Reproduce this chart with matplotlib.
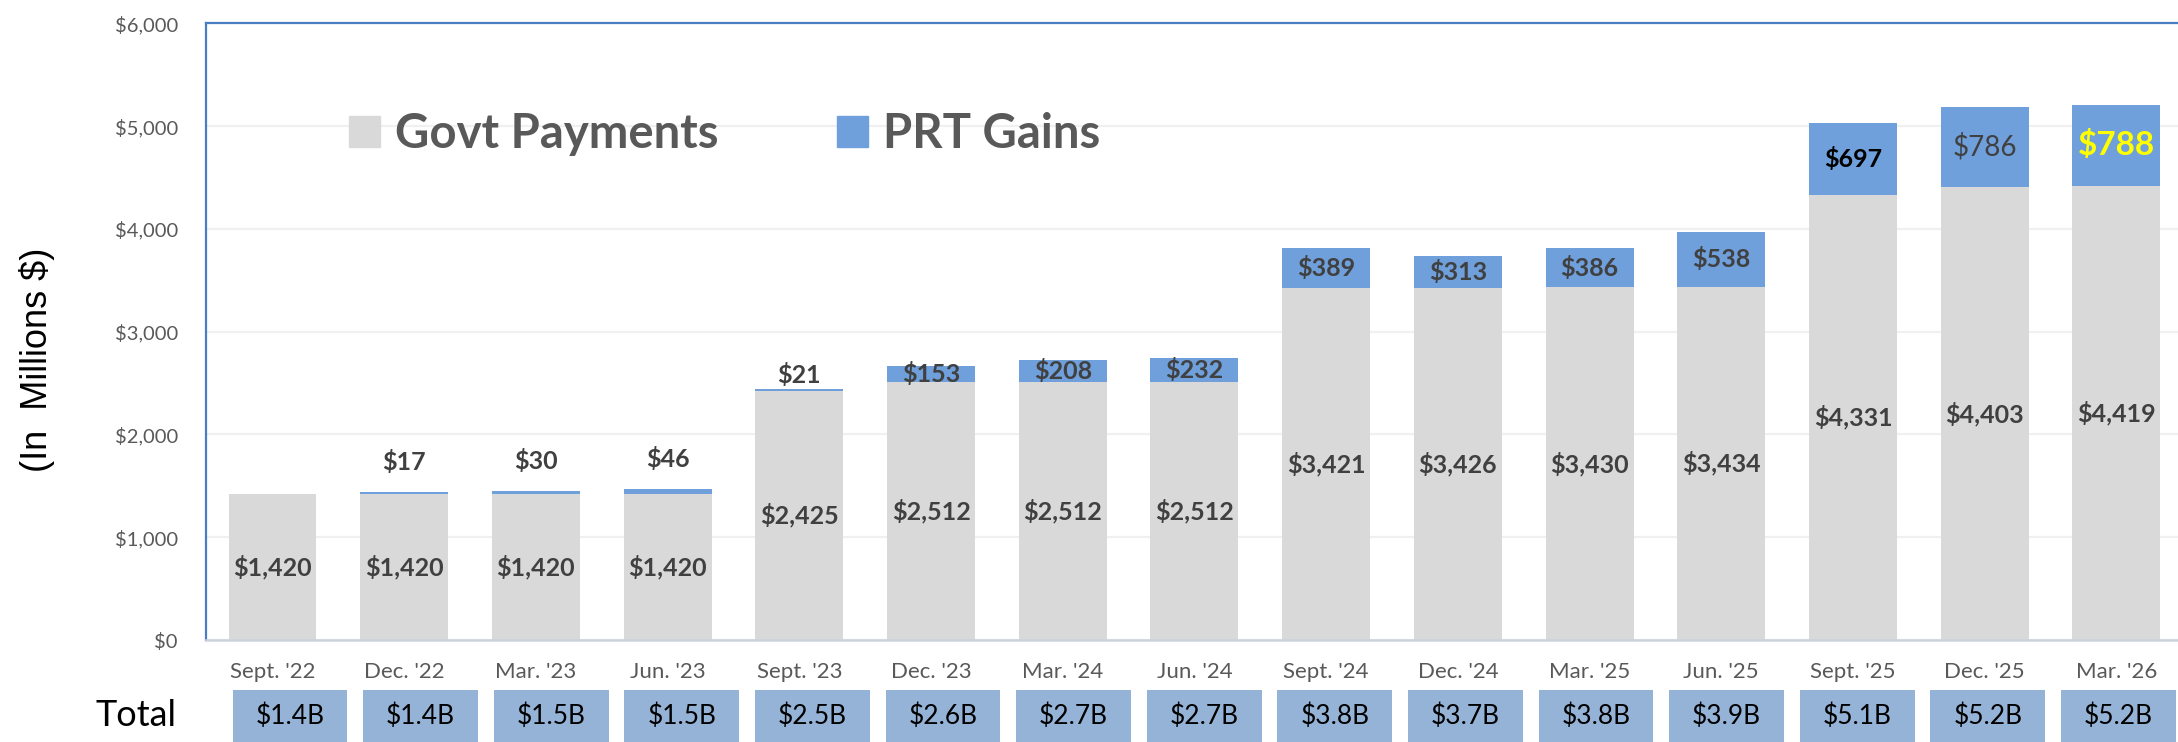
import matplotlib
matplotlib.use("Agg")
from matplotlib import pyplot as plt
from matplotlib.patches import Patch
from matplotlib.ticker import FuncFormatter

plt.rcParams['font.family'] = ['Lato', 'DejaVu Sans']

# data
quarters = ["Sept. '22", "Dec. '22", "Mar. '23", "Jun. '23", "Sept. '23", "Dec. '23", "Mar. '24",
            "Jun. '24", "Sept. '24", "Dec. '24", "Mar. '25", "Jun. '25", "Sept. '25", "Dec. '25", "Mar. '26"]
govt_payments = [1420, 1420, 1420, 1420, 2425, 2512, 2512, 2512, 3421, 3426, 3430, 3434, 4331, 4403, 4419]
prt_gains = [0, 17, 30, 46, 21, 153, 208, 232, 389, 313, 386, 538, 697, 786, 788]
totals = ["$1.4B", "$1.4B", "$1.5B", "$1.5B", "$2.5B", "$2.6B", "$2.7B", "$2.7B",
          "$3.8B", "$3.7B", "$3.8B", "$3.9B", "$5.1B", "$5.2B", "$5.2B"]

GRAY = "#D9D9D9"
BLUE = "#6FA0DC"
BOX = "#95B3D7"
TXT = "#404040"
AXTXT = "#595959"
SPINE = "#4A7EC2"

W, H = 2178, 742
fig = plt.figure(figsize=(W / 100, H / 100), dpi=100)
ax = fig.add_axes([205.6 / W, 102 / H, 1 - 205.6 / W, 616.7 / H])

x = list(range(len(quarters)))
bw = 0.668
ax.bar(x, govt_payments, width=bw, color=GRAY, zorder=2)
ax.bar(x, prt_gains, width=bw, bottom=govt_payments, color=BLUE, zorder=2)

ax.set_xlim(-0.508, 14.468)
ax.set_ylim(0, 6000)
ax.set_yticks(range(0, 6001, 1000))
ax.yaxis.set_major_formatter(FuncFormatter(lambda v, p: "${:,.0f}".format(v)))
ax.set_xticks(x)
ax.set_xticklabels(quarters)
ax.tick_params(axis='y', length=0, pad=20, labelsize=14.5, labelcolor=AXTXT)
ax.tick_params(axis='x', length=0, pad=16, labelsize=16, labelcolor=AXTXT)
ax.grid(axis='y', color="#F0F0F0", lw=1.6, zorder=0)
ax.set_axisbelow(True)

ax.spines['right'].set_visible(False)
ax.spines['left'].set_color(SPINE)
ax.spines['top'].set_color(SPINE)
ax.spines['left'].set_linewidth(1.6)
ax.spines['top'].set_linewidth(1.6)
ax.spines['bottom'].set_color("#CDD3DC")
ax.spines['bottom'].set_linewidth(1.8)

# govt payment labels in the middle of the grey part
for i, g in enumerate(govt_payments):
    ax.text(i, g / 2, "${:,}".format(g), ha='center', va='center', fontsize=18,
            fontweight='bold', color=TXT, zorder=3)

# PRT gain labels; small ones sit above the bar
special = {12: dict(color='black', fontweight='bold', fontsize=18),
           13: dict(color=TXT, fontweight='normal', fontsize=20),
           14: dict(color='#FFFF00', fontweight='bold', fontsize=24)}
above_pad = {4: 10}
for i, (g, p) in enumerate(zip(govt_payments, prt_gains)):
    if p == 0:
        continue
    style = dict(color=TXT, fontweight='bold', fontsize=18)
    style.update(special.get(i, {}))
    label = "${:,}".format(p)
    if p < 100:
        ax.annotate(label, (i, g + p), xytext=(0, above_pad.get(i, 21.5)),
                    textcoords='offset points', ha='center', va='center', zorder=3, **style)
    else:
        ax.text(i, g + p / 2, label, ha='center', va='center', zorder=3, **style)

# legend
handles = [Patch(color=GRAY), Patch(color=BLUE)]
fig.legend(handles, ["Govt Payments", "PRT Gains"], loc='center left',
           bbox_to_anchor=(349 / W, 1 - 134 / H), ncol=2, frameon=False, borderpad=0,
           borderaxespad=0, handlelength=0.65, handleheight=0.65, handletextpad=0.33,
           columnspacing=2.5, prop=dict(size=34, weight='bold'), labelcolor=AXTXT)

# y axis label
fig.text(37 / W, 1 - 360 / H, "(In  Millions $)", rotation=90, ha='center', va='center',
         fontsize=26, family=['Liberation Sans', 'DejaVu Sans'], color='black')

# totals row
pitch = 130.6
ax2 = fig.add_axes([(290 - pitch / 2) / W, 0, 15 * pitch / W, 52 / H])
ax2.bar(x, [1] * len(totals), width=0.88, color=BOX)
for i, t in enumerate(totals):
    ax2.text(i, 0.5, t, ha='center', va='center', fontsize=19, color='black')
ax2.set_xlim(-0.5, 14.5)
ax2.set_ylim(0, 1)
ax2.axis('off')
fig.text(136 / W, 1 - 715 / H, "Total", ha='center', va='center', fontsize=26, color='black')

fig.savefig("out.png", dpi=100)
